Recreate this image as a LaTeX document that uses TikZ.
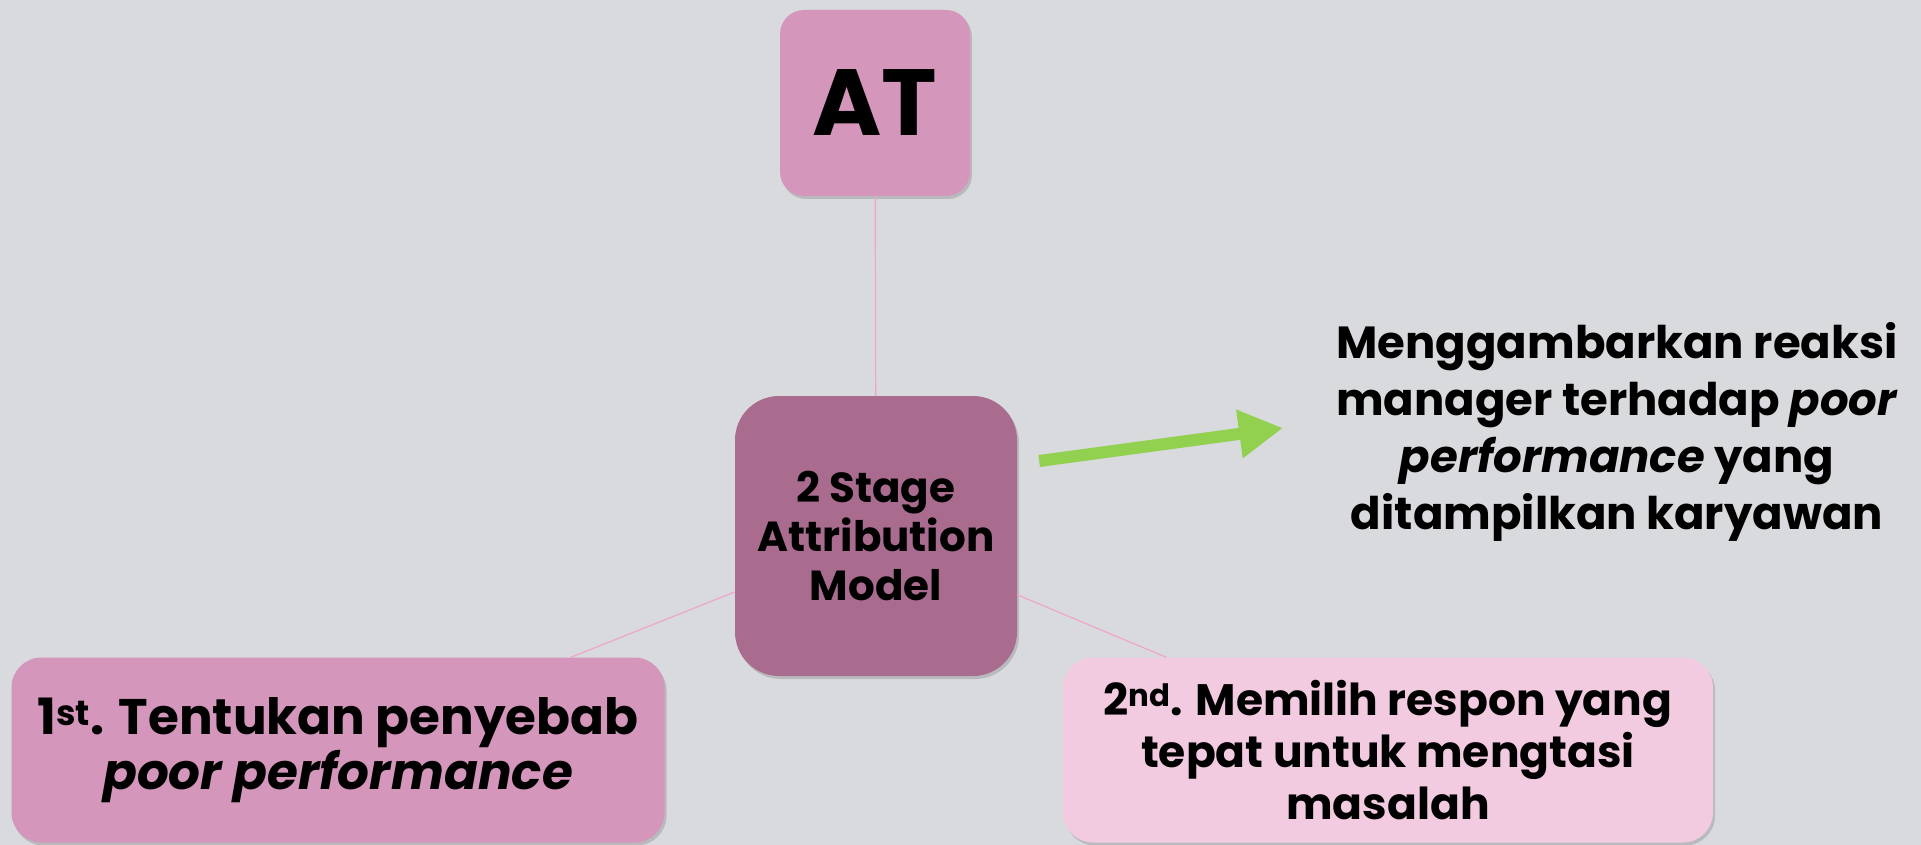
\documentclass[tikz,border=0pt]{standalone}
\usepackage{fontspec}
\setmainfont{Poppins}
\usetikzlibrary{arrows.meta, shadows}
\definecolor{slidegray}{HTML}{D9DADE}
\definecolor{mauve}{HTML}{D496BA}
\definecolor{plum}{HTML}{A96C8F}
\definecolor{blush}{HTML}{F2CBE1}
\definecolor{linkpink}{HTML}{EEA6CC}
\definecolor{leafgreen}{HTML}{92D050}
\newcommand{\fsz}[2]{\bfseries\fontsize{#1}{#2}\selectfont}
\tikzset{
    stagecard/.style={rounded corners=#1, inner sep=0pt, align=center,
        drop shadow={shadow xshift=2pt, shadow yshift=-3pt, opacity=.35}},
    link/.style={linkpink, line width=1.2pt},
}

\begin{document}
\begin{tikzpicture}[x=1pt, y=-1pt]
    \fill[slidegray] (0,0) rectangle (1921,845);
    \useasboundingbox (0,0) rectangle (1921,845);
    % the four cards
    \node[stagecard=24pt, fill=mauve, minimum width=190pt, minimum height=186pt,
        font=\fsz{94}{94}] (atbox) at (875,103) {AT};
    \node[stagecard=44pt, fill=plum, minimum width=282pt, minimum height=280pt,
        font=\fsz{42}{49}] (stagebox) at (876,536) {2 Stage\\Attribution\\Model};
    \node[stagecard=30pt, fill=mauve, minimum width=653pt, minimum height=185pt,
        font=\fsz{50}{55}] (firstbox) at (338,750)
        {1\textsuperscript{st}. Tentukan penyebab\\\textit{poor performance}};
    \node[stagecard=30pt, fill=blush, minimum width=650pt, minimum height=185pt,
        font=\fsz{44}{52}] (secondbox) at (1388,750)
        {2\textsuperscript{nd}. Memilih respon yang\\tepat untuk mengtasi\\masalah};
    \node[align=center, font=\fsz{45}{57}] (reaksi) at (1617,432)
        {Menggambarkan reaksi\\manager terhadap \textit{poor}\\\textit{performance} yang\\ditampilkan karyawan};
    % connectors
    \draw[link] (atbox) -- (stagebox);
    \foreach \card in {firstbox, secondbox}{
        \draw[link] (stagebox) -- (\card);
    }
    \coordinate (arrowtip) at (1283,428);
    \draw[leafgreen, line width=12pt, -{Triangle[length=44pt, width=46pt]}]
        ([shift={(22pt,75pt)}]stagebox.east) -- (arrowtip);
\end{tikzpicture}
\end{document}
